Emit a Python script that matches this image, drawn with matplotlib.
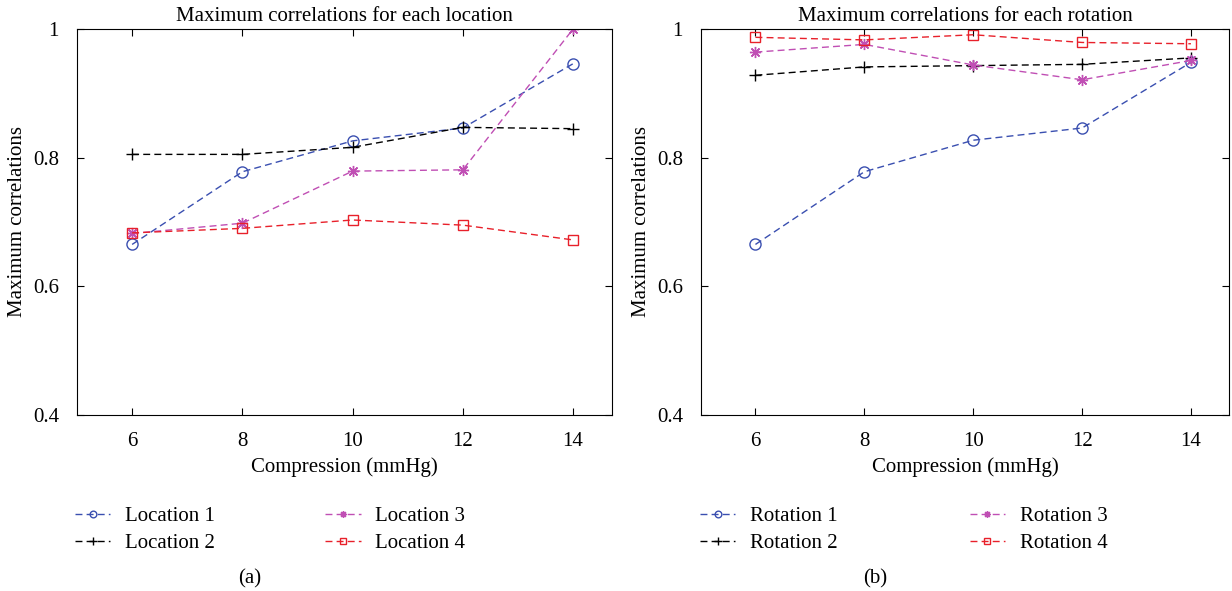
import matplotlib.pyplot as plt

plt.rcParams["font.family"] = ["Liberation Serif", "DejaVu Serif"]

compression = [6, 8, 10, 12, 14]

location_1 = [0.665, 0.778, 0.826, 0.846, 0.946]
location_2 = [0.805, 0.805, 0.816, 0.847, 0.845]
location_3 = [0.682, 0.698, 0.779, 0.781, 1.000]
location_4 = [0.683, 0.690, 0.703, 0.695, 0.672]

rotation_1 = [0.665, 0.778, 0.827, 0.846, 0.948]
rotation_2 = [0.928, 0.941, 0.943, 0.945, 0.955]
rotation_3 = [0.964, 0.976, 0.944, 0.921, 0.951]
rotation_4 = [0.987, 0.983, 0.991, 0.979, 0.977]

STYLES = [
    dict(color="#3a4fb0", marker="o", markersize=8, mfc="none"),
    dict(color="black", marker="+", markersize=9),
    dict(color="#c04fb4", marker=(8, 2, 0), markersize=8),
    dict(color="#e8202a", marker="s", markersize=7, mfc="none"),
]


def draw_panel(fig, rect, series, names, title, caption, legend_x, caption_x,
               colspace):
    ax = fig.add_axes(rect)
    handles = []
    for vals, name, st in zip(series, names, STYLES):
        h, = ax.plot(compression, vals, linestyle=(0, (5, 3)), linewidth=1.0,
                     markeredgewidth=1.0, label=name, **st)
        handles.append(h)
    ax.set_xlim(5, 14.7)
    ax.set_ylim(0.4, 1.0)
    ax.set_xticks(compression)
    ax.set_yticks([0.4, 0.6, 0.8, 1.0])
    ax.set_yticklabels(["0.4", "0.6", "0.8", "1"])
    ax.tick_params(direction="in", top=True, right=True, labelsize=15, length=5)
    ax.tick_params(axis="x", pad=12)
    ax.tick_params(axis="y", pad=13)
    ax.set_title(title, fontsize=15, pad=6)
    ax.set_xlabel("Compression (mmHg)", fontsize=15, labelpad=5)
    ax.set_ylabel("Maximum correlations", fontsize=15, labelpad=4)
    fig.legend(handles=handles, ncol=2, loc="upper left",
               bbox_to_anchor=(legend_x, 0.174), frameon=False, fontsize=15,
               handlelength=1.7, columnspacing=colspace, labelspacing=0.35,
               handletextpad=0.7, markerscale=0.6)
    fig.text(caption_x, 0.012, caption, ha="center", fontsize=15)
    return ax


fig = plt.figure(figsize=(12.32, 5.91), dpi=100)

draw_panel(fig, [0.0625, 0.298, 0.434, 0.653],
           [location_1, location_2, location_3, location_4],
           ["Location 1", "Location 2", "Location 3", "Location 4"],
           "Maximum correlations for each location", "(a)", 0.0455, 0.203, 5.3)

draw_panel(fig, [0.569, 0.298, 0.4286, 0.653],
           [rotation_1, rotation_2, rotation_3, rotation_4],
           ["Rotation 1", "Rotation 2", "Rotation 3", "Rotation 4"],
           "Maximum correlations for each rotation", "(b)", 0.5528, 0.71, 6.35)

fig.savefig("out.png", dpi=100)
